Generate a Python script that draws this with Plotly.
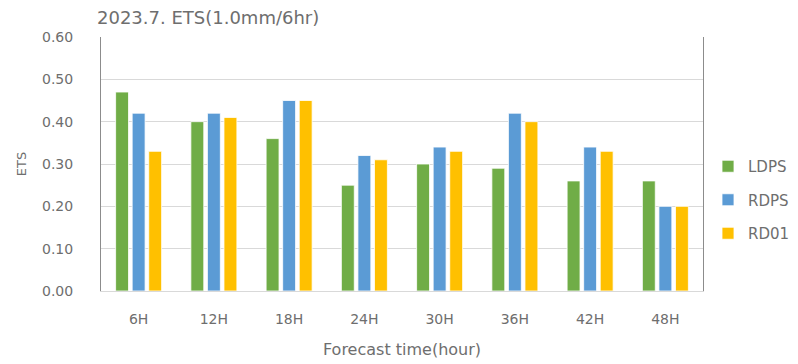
import plotly.graph_objects as go

categories = ["6H", "12H", "18H", "24H", "30H", "36H", "42H", "48H"]
ldps = [0.47, 0.40, 0.36, 0.25, 0.30, 0.29, 0.26, 0.26]
rdps = [0.42, 0.42, 0.45, 0.32, 0.34, 0.42, 0.34, 0.20]
rd01 = [0.33, 0.41, 0.45, 0.31, 0.33, 0.40, 0.33, 0.20]
series_names = ["LDPS", "RDPS", "RD01"]
colors = ["#70AD47", "#5B9BD5", "#FFC000"]

FONT = "DejaVu Sans, Open Sans, sans-serif"
TXT = "#6E6E6E"

# page body has an 8px margin; figure is sized to fill the remaining viewport
W, H = 790, 356

fig = go.Figure()
for name, vals, col in zip(series_names, [ldps, rdps, rd01], colors):
    fig.add_trace(go.Bar(
        x=categories, y=vals, name=name, legendgroup=name,
        marker=dict(color=col, line=dict(color="white", width=0.8)),
    ))

fig.update_layout(
    width=W, height=H,
    margin=dict(l=93, r=95, t=29, b=73, autoexpand=False),
    paper_bgcolor="white", plot_bgcolor="white",
    barmode="group", bargap=0.34, bargroupgap=0.22,
    font=dict(family=FONT, size=14, color=TXT),
    title=dict(text="2023.7. ETS(1.0mm/6hr)", x=89 / W, xanchor="left",
               y=1 - 10 / H, yanchor="middle",
               font=dict(family=FONT, size=18, color=TXT)),
    legend=dict(xref="container", yref="container",
                x=700 / W, xanchor="left", y=1 - 192 / H, yanchor="middle",
                tracegroupgap=11, font=dict(family=FONT, size=15, color=TXT),
                bgcolor="rgba(0,0,0,0)"),
    showlegend=True,
)
fig.update_yaxes(
    range=[0, 0.6], dtick=0.1, tickformat=".2f",
    showgrid=True, gridcolor="#D9D9D9", gridwidth=1,
    showline=True, linecolor="#8C8C8C", linewidth=1, mirror=True,
    zeroline=False, ticks="outside", ticklen=24, tickcolor="white",
    tickfont=dict(family=FONT, size=14, color=TXT),
    title=dict(text="ETS", standoff=12, font=dict(family=FONT, size=13, color=TXT)),
)
fig.update_xaxes(
    showline=True, linecolor="#D9D9D9", linewidth=1,
    ticks="outside", ticklen=15, tickcolor="white",
    tickfont=dict(family=FONT, size=14, color=TXT),
    title=dict(text="Forecast time(hour)", standoff=18, font=dict(family=FONT, size=16, color=TXT)),
)

fig.write_html("out.html")
